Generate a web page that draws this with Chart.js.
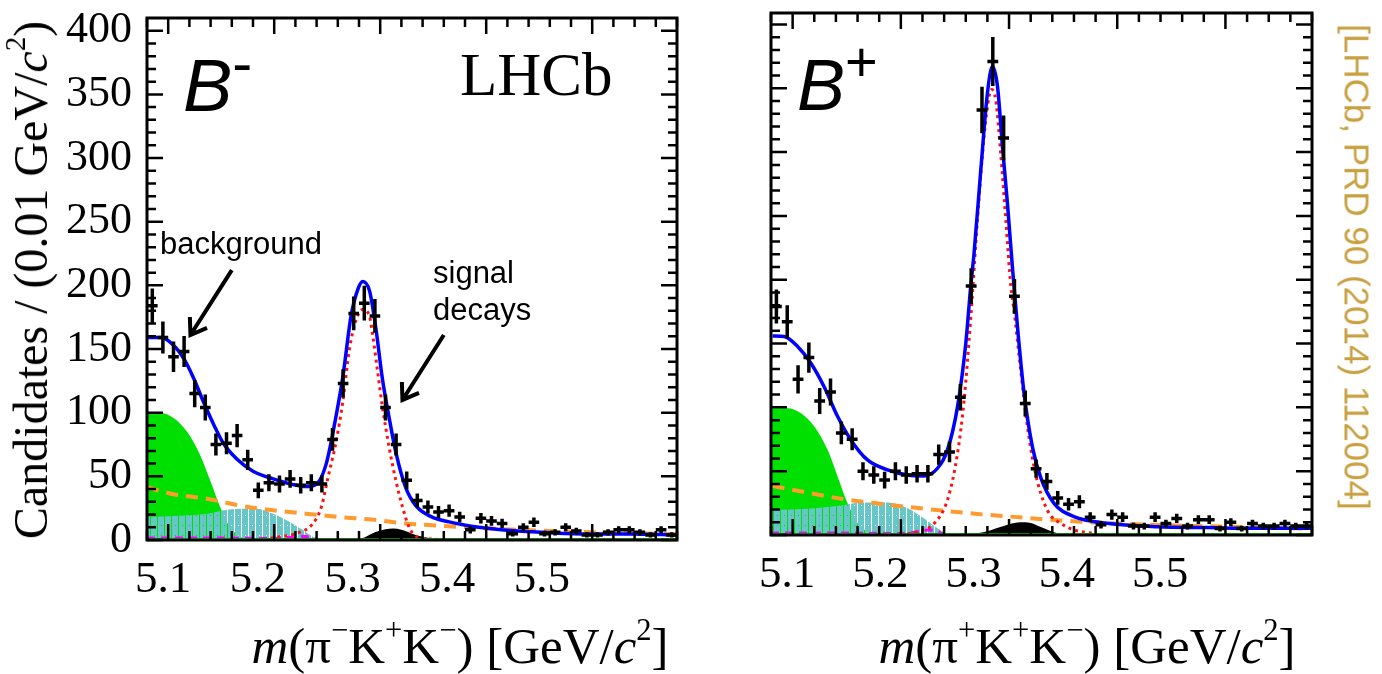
<!DOCTYPE html>
<html>
<head>
<meta charset="utf-8">
<script src="https://cdn.jsdelivr.net/npm/chart.js@4.4.0/dist/chart.umd.min.js"></script>
<style>
  body { margin: 0; background: #fff; }
  #page { position: relative; width: 1382px; height: 674px; overflow: hidden; background: #fff; }
  canvas { position: absolute; top: 0; }
  .txt { position: absolute; white-space: nowrap; line-height: 1; color: #000; z-index: 2; }
  .serif { font-family: 'Liberation Serif', serif; }
  .sans { font-family: 'Liberation Sans', sans-serif; }
  .sup { font-size: 0.6em; position: relative; top: -0.75em; }
</style>
</head>
<body>
<div id="page">
  <canvas id="left" width="700" height="674" style="left:0"></canvas>
  <canvas id="right" width="682" height="674" style="left:700px"></canvas>

  <div class="txt serif" style="left:31px; top:280px; font-size:48px; transform:translate(-50%,-50%) rotate(-90deg)">Candidates / (0.01 GeV/<i>c</i><span class="sup">2</span>)</div>
  <div class="txt serif" style="left:460px; top:646px; font-size:51px; transform:translate(-50%,-50%)"><i>m</i>(π<span class="sup">−</span>K<span class="sup">+</span>K<span class="sup">−</span>) [GeV/<i>c</i><span class="sup">2</span>]</div>
  <div class="txt serif" style="left:1087px; top:646px; font-size:51px; transform:translate(-50%,-50%)"><i>m</i>(π<span class="sup">+</span>K<span class="sup">+</span>K<span class="sup">−</span>) [GeV/<i>c</i><span class="sup">2</span>]</div>
  <div class="txt sans" style="left:1357px; top:267px; font-size:35px; color:#c9a040; transform:translate(-50%,-50%) rotate(90deg)">[LHCb, PRD 90 (2014) 112004]</div>

  <div class="txt sans" style="left:183px; top:49px; font-size:74px"><i>B</i><span style="font-size:60px; position:relative; top:-28px">-</span></div>
  <div class="txt sans" style="left:797px; top:49px; font-size:72px"><i>B</i><span style="font-size:56px; position:relative; top:-29px">+</span></div>
  <div class="txt serif" style="left:460px; top:44px; font-size:61px">LHCb</div>
  <div class="txt sans" style="left:160px; top:228px; font-size:31px">background</div>
  <div class="txt sans" style="left:433px; top:257px; font-size:31px">signal</div>
  <div class="txt sans" style="left:433px; top:294px; font-size:31px">decays</div>
</div>

<script>
// histogram bins, 0.01 GeV/c2 wide
const binCenters = [5.085, 5.095, 5.105, 5.115, 5.125, 5.135, 5.145, 5.155, 5.165, 5.175,
  5.185, 5.195, 5.205, 5.215, 5.225, 5.235, 5.245, 5.255, 5.265, 5.275,
  5.285, 5.295, 5.305, 5.315, 5.325, 5.335, 5.345, 5.355, 5.365, 5.375,
  5.385, 5.395, 5.405, 5.415, 5.425, 5.435, 5.445, 5.455, 5.465, 5.475,
  5.485, 5.495, 5.505, 5.515, 5.525, 5.535, 5.545, 5.555, 5.565, 5.575];
const binHalfWidth = 0.005;

const massMin = 5.08, massMax = 5.58;
const yTickValues = [0, 50, 100, 150, 200, 250, 300, 350, 400];
const xTickLabels = [5.1, 5.2, 5.3, 5.4, 5.5];
// tick marks on the frame
const xTickMarks = [5.08, 5.10, 5.12, 5.14, 5.16, 5.18, 5.20, 5.22, 5.24, 5.26, 5.28, 5.30, 5.32,
  5.34, 5.36, 5.38, 5.40, 5.42, 5.44, 5.46, 5.48, 5.50, 5.52, 5.54, 5.56, 5.58];
const yTickMarks = [0, 10, 20, 30, 40, 50, 60, 70, 80, 90, 100, 110, 120, 130, 140, 150, 160, 170, 180, 190, 200,
  210, 220, 230, 240, 250, 260, 270, 280, 290, 300, 310, 320, 330, 340, 350, 360, 370, 380, 390, 400];

// ---- B- panel ----
const bMinusCounts = [184, 159, 144, 148, 115, 104, 75, 76, 82, 63,
  39, 45, 44, 48, 43, 45, 44, 79, 123, 178,
  186, 176, 104, 75, 47, 31, 26, 22, 23, 18,
  8, 17, 15, 13, 5, 10, 14, 5, 6, 10,
  7, 4, 4, 6, 8, 8, 6, 4, 8, 4];

const bMinusTotalM = [5.080, 5.093, 5.105, 5.115, 5.124, 5.133, 5.143, 5.152, 5.165, 5.180, 5.199, 5.218, 5.230, 5.240, 5.249, 5.2585, 5.265, 5.2725, 5.279, 5.2835, 5.290, 5.296, 5.302, 5.3085, 5.315, 5.324, 5.3336, 5.349, 5.365, 5.3805, 5.412, 5.443, 5.474, 5.5055, 5.537, 5.58];
const bMinusTotal = [159, 159, 153, 142, 127, 109, 90.6, 76, 63.4, 54, 48, 43.5, 42, 44, 59.6, 98, 129.5, 176, 197, 203, 195.5, 165.7, 127, 95.8, 68, 41.4, 27, 18, 14.2, 11.6, 8.3, 6.5, 5.2, 4.7, 4.7, 3.9];

const bMinusSignalM = [5.19, 5.205, 5.22, 5.2366, 5.2445, 5.2507, 5.2585, 5.2647, 5.271, 5.2773, 5.2835, 5.2898, 5.293, 5.2976, 5.3023, 5.3085, 5.3148, 5.321, 5.3273, 5.3336, 5.345, 5.36];
const bMinusSignal = [0.5, 2.5, 5, 13, 26, 49, 77.7, 108.7, 150, 173, 181, 176, 160.5, 132, 103.5, 72.5, 46.6, 26, 10, 3, 1, 0.3];

const bMinusCombM = [5.08, 5.105, 5.1366, 5.168, 5.199, 5.23, 5.2617, 5.293, 5.324, 5.349, 5.40, 5.45, 5.50, 5.58];
const bMinusComb = [41.4, 36, 32.4, 27, 23.3, 20.7, 18, 16, 13, 11.6, 9.2, 7.4, 6, 4.5];

const bMinusPartRecoM = [5.08, 5.0928, 5.105, 5.1178, 5.13, 5.1397, 5.149, 5.1584, 5.168, 5.18];
const bMinusPartReco = [99.7, 99.7, 95.8, 85, 67, 46.6, 26, 10, 2.6, 0];

const bMinusCyanM = [5.08, 5.11, 5.14, 5.152, 5.168, 5.1835, 5.199, 5.2147, 5.227, 5.2366, 5.25];
const bMinusCyan = [18, 19, 21, 23.3, 24.6, 24.6, 20.7, 14.2, 7.8, 2.6, 0];

const bMinusPeakingM = [5.275, 5.285, 5.295, 5.305, 5.312, 5.32, 5.33, 5.34, 5.35, 5.36];
const bMinusPeaking = [0, 2, 6, 8.5, 9, 8, 5, 2.5, 1, 0];

const bMinusMagentaM = [5.08, 5.15, 5.2, 5.215, 5.225, 5.235, 5.24];
const bMinusMagenta = [1.5, 1.5, 1.2, 2, 3, 2, 0];

// annotation arrows [mass, candidates]: tail -> tip
const bMinusArrows = [
  { from: [5.160, 212], to: [5.121, 161] },
  { from: [5.360, 161], to: [5.321, 110] }
];

// ---- B+ panel ----
const bPlusCounts = [179, 167, 122, 139, 105, 112, 80, 75, 50, 47,
  43, 50, 47, 48, 48, 63, 65, 108, 195, 333,
  371, 311, 187, 103, 52, 42, 29, 24, 26, 14,
  8, 16, 14, 7, 7, 14, 9, 13, 7, 12,
  12, 5, 10, 5, 9, 7, 7, 9, 7, 7];

const bPlusTotalM = [5.0815, 5.0922, 5.1046, 5.1169, 5.1292, 5.1416, 5.1538, 5.1692, 5.1877, 5.2062, 5.2215, 5.2339, 5.2431, 5.2524, 5.26, 5.2646, 5.2677, 5.2739, 5.280, 5.2847, 5.2893, 5.2939, 5.2985, 5.3031, 5.3078, 5.3139, 5.3216, 5.3293, 5.3416, 5.36, 5.3909, 5.437, 5.4832, 5.529, 5.58];
const bPlusTotal = [156, 155.5, 147.7, 134.6, 116, 92.8, 74.5, 58.8, 51, 47, 46.3, 52.3, 66.7, 100.6, 150, 195, 221, 286, 346, 367, 351.6, 304.5, 260, 210, 163, 111, 69, 45, 24.8, 14.4, 9.2, 6.5, 5.8, 5.2, 5.2];

const bPlusSignalM = [5.2, 5.2154, 5.2307, 5.2431, 5.2524, 5.2585, 5.2646, 5.2708, 5.2769, 5.2816, 5.284, 5.2877, 5.2923, 5.297, 5.3016, 5.3046, 5.3108, 5.317, 5.3231, 5.3293, 5.337, 5.348, 5.36, 5.38];
const bPlusSignal = [0.5, 2.6, 9, 27.5, 64, 106, 170, 247, 312, 344, 349, 341, 299, 247, 195, 176, 129, 85, 53.6, 32.7, 17, 9, 4, 1];

const bPlusCombM = [5.0815, 5.117, 5.1477, 5.178, 5.209, 5.24, 5.2708, 5.3016, 5.3323, 5.4, 5.5, 5.58];
const bPlusComb = [38.4, 32.7, 28, 24.8, 21.7, 19, 16.5, 14.4, 12.3, 9, 6.5, 5];

const bPlusPartRecoM = [5.08, 5.0954, 5.1077, 5.12, 5.1323, 5.1416, 5.1508, 5.16, 5.1692, 5.18];
const bPlusPartReco = [99.4, 99.4, 95.4, 85, 66.7, 45.7, 24.8, 9.2, 2.6, 0];

const bPlusCyanM = [5.08, 5.117, 5.1477, 5.163, 5.1877, 5.2062, 5.2215, 5.2339, 5.2431, 5.255];
const bPlusCyan = [19.6, 20.8, 23.5, 25.4, 25.4, 21, 13, 5.2, 1, 0];

const bPlusPeakingM = [5.26, 5.28, 5.295, 5.31, 5.32, 5.33, 5.34, 5.35];
const bPlusPeaking = [0, 3, 7, 10, 9.5, 6, 2.5, 0.5];

const bPlusMagentaM = [5.08, 5.15, 5.2, 5.215, 5.225, 5.235, 5.24];
const bPlusMagenta = [1.5, 1.5, 1.2, 2.5, 4, 2.5, 0];

const zeroLineM = [5.08, 5.58];
const zeroLine = [0, 0];

const pts = (mass, vals) => mass.map((m, i) => ({ x: m, y: vals[i] }));

// cyan fill with see-through vertical lines and a dotted row
function hatch(ctx, color) {
  const c = document.createElement('canvas');
  c.width = 7; c.height = 10;
  const g = c.getContext('2d');
  g.fillStyle = color;
  g.fillRect(0, 0, 7, 10);
  g.clearRect(3, 0, 1, 10);
  g.clearRect(0, 5, 1, 1);
  return ctx.createPattern(c, 'repeat');
}

// error bars, arrows, and the box with inward ticks on all four sides
const overlayPlugin = {
  id: 'overlay',
  afterDatasetsDraw(chart, args, opts) {
    const ctx = chart.ctx;
    const sx = chart.scales.x, sy = chart.scales.y;
    const left = sx.getPixelForValue(massMin), right = sx.getPixelForValue(massMax);
    const bottom = sy.getPixelForValue(0), top = sy.getPixelForValue(opts.yMax);
    ctx.save();
    ctx.setLineDash([]);
    ctx.strokeStyle = '#000';
    ctx.lineWidth = 3.5;
    ctx.beginPath();

    // data points with Poisson error bars
    chart.data.datasets.forEach(ds => {
      if (!ds.errorBars) return;
      ds.data.forEach(p => {
        const err = Math.sqrt(p.y);
        const px = sx.getPixelForValue(p.x), py = sy.getPixelForValue(p.y);
        ctx.moveTo(px, sy.getPixelForValue(p.y + err));
        ctx.lineTo(px, sy.getPixelForValue(Math.max(0, p.y - err)));
        ctx.moveTo(sx.getPixelForValue(p.x - binHalfWidth), py);
        ctx.lineTo(sx.getPixelForValue(p.x + binHalfWidth), py);
      });
    });
    ctx.stroke();

    // frame ticks
    ctx.lineWidth = 2.5;
    ctx.beginPath();
    xTickMarks.forEach(m => {
      const px = sx.getPixelForValue(m);
      const len = xTickLabels.some(t => Math.abs(t - m) < 1e-6) ? 16 : 9;
      ctx.moveTo(px, bottom);
      ctx.lineTo(px, bottom - len);
      ctx.moveTo(px, top);
      ctx.lineTo(px, top + len);
    });
    yTickMarks.forEach(v => {
      const py = sy.getPixelForValue(v);
      const len = yTickValues.includes(v) ? 16 : 9;
      ctx.moveTo(left, py);
      ctx.lineTo(left + len, py);
      ctx.moveTo(right, py);
      ctx.lineTo(right - len, py);
    });
    ctx.stroke();

    // annotation arrows
    ctx.lineWidth = 4;
    (opts.arrows || []).forEach(ar => {
      const x0 = sx.getPixelForValue(ar.from[0]), y0 = sy.getPixelForValue(ar.from[1]);
      const x1 = sx.getPixelForValue(ar.to[0]), y1 = sy.getPixelForValue(ar.to[1]);
      const ang = Math.atan2(y0 - y1, x0 - x1);
      ctx.beginPath();
      ctx.moveTo(x0, y0);
      ctx.lineTo(x1, y1);
      ctx.moveTo(x1 + 18 * Math.cos(ang - 0.6), y1 + 18 * Math.sin(ang - 0.6));
      ctx.lineTo(x1, y1);
      ctx.lineTo(x1 + 18 * Math.cos(ang + 0.6), y1 + 18 * Math.sin(ang + 0.6));
      ctx.stroke();
    });

    ctx.lineWidth = 3;
    ctx.strokeRect(left, top, right - left, bottom - top);
    ctx.restore();
  }
};

function makePanel(id, d) {
  const ctx = document.getElementById(id).getContext('2d');
  const line = (data, color, width, dash, order) => ({
    data: data, borderColor: color, borderWidth: width, borderDash: dash,
    pointRadius: 0, fill: false, cubicInterpolationMode: 'monotone', order: order
  });
  const area = (data, color, order) => ({
    data: data, borderWidth: 0, backgroundColor: color, borderColor: 'transparent',
    pointRadius: 0, fill: 'origin', cubicInterpolationMode: 'monotone', order: order
  });

  return new Chart(ctx, {
    type: 'line',
    data: {
      datasets: [
        { data: pts(binCenters, d.counts), showLine: false, pointRadius: 0, errorBars: true, order: 0 },
        line(pts(d.totalM, d.total), '#0000ff', 3.5, [], 1),
        line(pts(zeroLineM, zeroLine), '#22ee22', 4, [], 2),
        line(pts(d.signalM, d.signal), '#ff1010', 3, [3, 4], 3),
        line(pts(d.combM, d.comb), '#ff9a2e', 4, [12, 8], 4),
        line(pts(d.magentaM, d.magenta), '#ff00ff', 3, [8, 6], 5),
        area(pts(d.peakingM, d.peaking), '#000000', 6),
        area(pts(d.cyanM, d.cyan), hatch(ctx, '#66c6c8'), 7),
        area(pts(d.partRecoM, d.partReco), '#00e000', 8)
      ]
    },
    options: {
      responsive: false,
      animation: false,
      devicePixelRatio: 1,
      layout: { autoPadding: false, padding: d.padding },
      plugins: {
        legend: { display: false },
        tooltip: { enabled: false },
        overlay: { arrows: d.arrows, yMax: d.yMax }
      },
      scales: {
        x: { type: 'linear', min: massMin, max: massMax, display: false },
        xl: {
          type: 'linear', axis: 'x', position: 'bottom', min: d.labelMin, max: d.labelMax,
          afterBuildTicks: s => { s.ticks = xTickLabels.map(v => ({ value: v })); },
          afterFit: s => { s.height = d.labelHeight; },
          grid: { display: false },
          border: { display: false },
          ticks: {
            color: '#000', padding: 5, maxRotation: 0,
            font: { family: 'Liberation Serif', size: 45 },
            callback: v => v.toFixed(1)
          }
        },
        y: {
          min: 0, max: d.yMax, display: d.showY,
          afterBuildTicks: s => { s.ticks = yTickValues.map(v => ({ value: v })); },
          afterFit: s => { s.width = d.yWidth; },
          grid: { display: false },
          border: { display: false },
          ticks: {
            color: '#000', padding: 7,
            font: { family: 'Liberation Serif', size: 44, lineHeight: 0.5 }
          }
        }
      }
    },
    plugins: [overlayPlugin]
  });
}

makePanel('left', {
  counts: bMinusCounts,
  totalM: bMinusTotalM, total: bMinusTotal,
  signalM: bMinusSignalM, signal: bMinusSignal,
  combM: bMinusCombM, comb: bMinusComb,
  partRecoM: bMinusPartRecoM, partReco: bMinusPartReco,
  cyanM: bMinusCyanM, cyan: bMinusCyan,
  peakingM: bMinusPeakingM, peaking: bMinusPeaking,
  magentaM: bMinusMagentaM, magenta: bMinusMagenta,
  arrows: bMinusArrows,
  yMax: 410, showY: true, yWidth: 147,
  labelMin: 5.0831, labelMax: 5.6425, labelHeight: 134,
  padding: { left: 0, top: 12, right: 23, bottom: 0 }
});

makePanel('right', {
  counts: bPlusCounts,
  totalM: bPlusTotalM, total: bPlusTotal,
  signalM: bPlusSignalM, signal: bPlusSignal,
  combM: bPlusCombM, comb: bPlusComb,
  partRecoM: bPlusPartRecoM, partReco: bPlusPartReco,
  cyanM: bPlusCyanM, cyan: bPlusCyan,
  peakingM: bPlusPeakingM, peaking: bPlusPeaking,
  magentaM: bPlusMagentaM, magenta: bPlusMagenta,
  arrows: [],
  yMax: 409, showY: false, yWidth: 0,
  labelMin: 5.0828, labelMax: 5.663, labelHeight: 139,
  padding: { left: 71, top: 13, right: 70, bottom: 0 }
});
</script>
</body>
</html>
